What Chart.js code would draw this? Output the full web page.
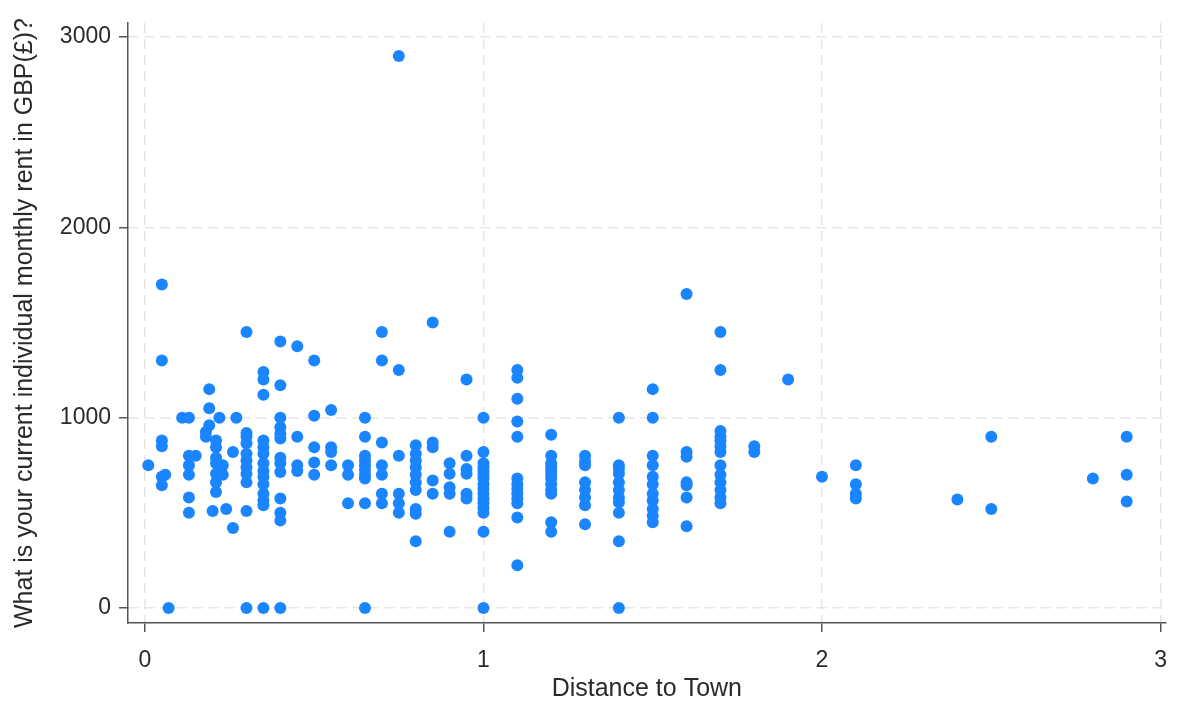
<!DOCTYPE html>
<html>
<head>
<meta charset="utf-8">
<title>Rent vs distance to town</title>
<script src="https://cdn.jsdelivr.net/npm/chart.js@4.4.1/dist/chart.umd.min.js"></script>
<style>
  html, body { margin: 0; padding: 0; background: #fff; }
  canvas { display: block; }
</style>
</head>
<body>
<canvas id="chart" width="1182" height="704"></canvas>
<script>
// distance to town (x) and monthly rent in GBP (y), one pair per respondent
const distance = [
  0.01,
  0.05, 0.05, 0.05, 0.05, 0.05, 0.05, 0.06,
  0.07,
  0.11, 0.13, 0.13, 0.13, 0.13, 0.13, 0.13, 0.15,
  0.19, 0.19, 0.19, 0.18, 0.18,
  0.21, 0.21, 0.21, 0.21, 0.21, 0.21, 0.21, 0.2, 0.22, 0.23, 0.23, 0.24, 0.26, 0.26, 0.27,
  0.3, 0.3, 0.3, 0.3, 0.3, 0.3, 0.3, 0.3, 0.3, 0.3, 0.3,
  0.35, 0.35, 0.35, 0.35, 0.35, 0.35, 0.35, 0.35, 0.35, 0.35, 0.35, 0.35, 0.35, 0.35,
  0.4, 0.4, 0.4, 0.4, 0.4, 0.4, 0.4, 0.4, 0.4, 0.4, 0.4, 0.4, 0.4,
  0.45, 0.45, 0.45, 0.45,
  0.5, 0.5, 0.5, 0.5, 0.5,
  0.55, 0.55, 0.55, 0.55,
  0.6, 0.6, 0.6,
  0.65, 0.65, 0.65, 0.65, 0.65, 0.65, 0.65, 0.65, 0.65, 0.65,
  0.7, 0.7, 0.7, 0.7, 0.7, 0.7, 0.7,
  0.75, 0.75, 0.75, 0.75, 0.75, 0.75,
  0.8, 0.8, 0.8, 0.8, 0.8, 0.8, 0.8, 0.8, 0.8, 0.8,
  0.85, 0.85, 0.85, 0.85, 0.85,
  0.9, 0.9, 0.9, 0.9, 0.9,
  0.95, 0.95, 0.95, 0.95, 0.95, 0.95,
  1, 1, 1, 1, 1, 1, 1, 1, 1, 1, 1, 1, 1, 1, 1, 1,
  1.1, 1.1, 1.1, 1.1, 1.1, 1.1, 1.1, 1.1, 1.1, 1.1, 1.1, 1.1, 1.1,
  1.2, 1.2, 1.2, 1.2, 1.2, 1.2, 1.2, 1.2, 1.2, 1.2, 1.2, 1.2,
  1.3, 1.3, 1.3, 1.3, 1.3, 1.3, 1.3, 1.3,
  1.4, 1.4, 1.4, 1.4, 1.4, 1.4, 1.4, 1.4, 1.4, 1.4, 1.4,
  1.5, 1.5, 1.5, 1.5, 1.5, 1.5, 1.5, 1.5, 1.5, 1.5, 1.5,
  1.6, 1.6, 1.6, 1.6, 1.6, 1.6, 1.6,
  1.7, 1.7, 1.7, 1.7, 1.7, 1.7, 1.7, 1.7, 1.7, 1.7, 1.7, 1.7, 1.7,
  1.8, 1.8,
  1.9,
  2,
  2.1, 2.1, 2.1, 2.1,
  2.4,
  2.5, 2.5,
  2.8,
  2.9, 2.9, 2.9
];
const rent = [
  750,
  1700, 1300, 880, 850, 690, 645, 700,
  0,
  1000, 1000, 800, 750, 700, 580, 500, 800,
  1150, 1050, 960, 925, 900,
  880, 845, 790, 760, 705, 660, 610, 510, 1000, 750, 700, 520, 820, 420, 1000,
  1450, 920, 900, 865, 810, 775, 740, 705, 660, 510, 0,
  1240, 1200, 1120, 880, 845, 810, 760, 720, 690, 650, 600, 565, 540, 0,
  1400, 1170, 1000, 950, 915, 890, 790, 760, 715, 575, 500, 460, 0,
  1375, 900, 750, 720,
  1300, 1010, 845, 765, 700,
  1040, 845, 820, 750,
  750, 700, 550,
  1000, 900, 800, 775, 750, 725, 700, 680, 550, 0,
  1450, 1300, 870, 750, 700, 600, 550,
  2900, 1250, 800, 600, 550, 500,
  855, 810, 775, 740, 700, 660, 620, 520, 495, 350,
  1500, 870, 845, 670, 600,
  760, 705, 635, 600, 400,
  1200, 800, 730, 705, 600, 575,
  1000, 820, 760, 740, 720, 700, 680, 650, 625, 600, 575, 550, 525, 500, 400, 0,
  1250, 1210, 1100, 980, 900, 680, 650, 625, 600, 575, 550, 475, 225,
  910, 800, 760, 740, 720, 700, 680, 650, 620, 600, 450, 400,
  800, 770, 750, 660, 620, 580, 540, 440,
  1000, 750, 730, 705, 660, 620, 580, 555, 500, 350, 0,
  1150, 1000, 800, 750, 690, 650, 600, 565, 520, 485, 450,
  1650, 820, 795, 660, 645, 580, 430,
  1450, 1250, 930, 900, 880, 850, 820, 750, 700, 660, 620, 580, 550,
  850, 820,
  1200,
  690,
  750, 650, 600, 575,
  570,
  900, 520,
  680,
  900, 700, 560
];
const xTicks = [0, 1, 2, 3];
const xTickLabels = ['0', '1', '2', '3'];
const yTicks = [0, 1000, 2000, 3000];
const yTickLabels = ['0', '1000', '2000', '3000'];

const points = distance.map((d, i) => ({ x: d, y: rent[i] }));

const axisColor = '#555555';
const gridColor = '#e6e6e6';
const textColor = '#2a2a2a';
const tickFont = { family: 'Liberation Sans, Arial, sans-serif', size: 23 };
const titleFont = { family: 'Liberation Sans, Arial, sans-serif', size: 25 };

new Chart(document.getElementById('chart'), {
  type: 'scatter',
  data: {
    datasets: [{
      data: points,
      backgroundColor: '#1a85ff',
      borderWidth: 0,
      pointRadius: 6,
      pointHoverRadius: 6
    }]
  },
  options: {
    responsive: false,
    animation: false,
    events: [],
    layout: { padding: { top: 23, right: 11, left: 0, bottom: 0 } },
    plugins: { legend: { display: false }, tooltip: { enabled: false } },
    scales: {
      x: {
        type: 'linear',
        min: -0.05,
        max: 3.015,
        afterBuildTicks: s => { s.ticks = xTicks.map(v => ({ value: v })); },
        afterFit: s => { s.height = 81; },
        grid: { color: gridColor, lineWidth: 1.5, tickColor: axisColor, tickLength: 9, tickWidth: 1.5 },
        border: { color: axisColor, width: 1.5, dash: [10, 6] },
        ticks: {
          font: tickFont, color: textColor, padding: 15, maxRotation: 0,
          callback: v => xTickLabels[xTicks.indexOf(v)]
        },
        title: { display: true, text: 'Distance to Town', font: titleFont, color: textColor, padding: { top: 0, bottom: 0 } }
      },
      y: {
        type: 'linear',
        min: -79,
        max: 3074,
        afterBuildTicks: s => { s.ticks = yTicks.map(v => ({ value: v })); },
        afterFit: s => { s.width = 128; },
        grid: { color: gridColor, lineWidth: 1.5, tickColor: axisColor, tickLength: 9, tickWidth: 1.5 },
        border: { color: axisColor, width: 1.5, dash: [10, 6] },
        ticks: {
          font: tickFont, color: textColor, padding: 8,
          callback: v => yTickLabels[yTicks.indexOf(v)]
        },
        title: { display: true, text: 'What is your current individual monthly rent in GBP(£)?', font: titleFont, color: textColor, padding: { top: 10, bottom: 0 } }
      }
    }
  }
});
</script>
</body>
</html>
